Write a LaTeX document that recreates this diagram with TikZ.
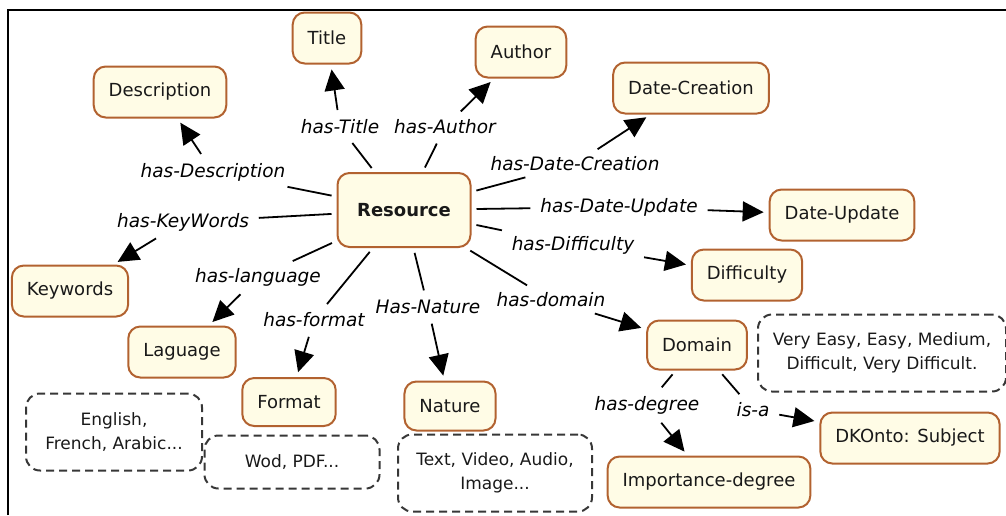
\documentclass[tikz,border=0pt]{standalone}
\usepackage{fontspec}
\setmainfont{DejaVu Sans}
\usepackage{tikz}
\usetikzlibrary{arrows.meta}
\definecolor{box_fill}{RGB}{255,252,230}
\definecolor{box_edge}{RGB}{178,98,48}
\definecolor{dash_gray}{RGB}{55,55,55}
\definecolor{text_gray}{RGB}{25,25,25}

\begin{document}
\begin{tikzpicture}[->,line width=1.8pt,>={Triangle[length=21pt,width=20pt]},x=1pt,y=-1pt]
    \tikzstyle{concept}=[draw=box_edge, fill=box_fill, rounded corners=12pt, line width=2pt, minimum height=51pt, inner xsep=15pt, text=text_gray, font=\fontsize{18}{21}\selectfont]
    \tikzstyle{values}=[draw=dash_gray, dash pattern=on 8pt off 5pt, rounded corners=14pt, line width=2pt, align=center, text=text_gray, font=\fontsize{17}{24}\selectfont]
    \tikzstyle{rel}=[inner sep=4pt, text=black, font=\itshape\fontsize{18.5}{21}\selectfont]

    \useasboundingbox (0,0) rectangle (1006,515);
    \draw[-,line width=2pt] (8,515) -- (8,10) -- (1006,10);

    % concepts
    \node[concept]                  (title)  at (327,38)  {Title};
    \node[concept]                  (author) at (521,52)  {Author};
    \node[concept]                  (descr)  at (160,92)  {Description};
    \node[concept]                  (datecr) at (691,88)  {Date-Creation};
    \node[concept,minimum width=133pt,minimum height=74pt,font=\bfseries\fontsize{18}{21}\selectfont]
                                    (res)    at (404,210) {Resource};
    \node[concept]                  (dateup) at (842,215) {Date-Update};
    \node[concept]                  (diff)   at (747,275) {Difficulty};
    \node[concept]                  (keyw)   at (70,291)  {Keywords};
    \node[concept]                  (lang)   at (182,352) {Laguage};
    \node[concept,minimum height=48pt] (fmt) at (289,402) {Format};
    \node[concept,minimum height=49pt] (nat) at (450,406) {Nature};
    \node[concept,minimum height=49pt] (dom) at (697,345) {Domain};
    \node[concept]                  (dkonto) at (910,438) {DKOnto: Subject};
    \node[concept]                  (impdeg) at (709,482) {Importance-degree};

    % value lists
    \node[values,minimum width=248pt,minimum height=77pt] (vdiff) at (882,353) {Very Easy, Easy, Medium,\\Difficult, Very Difficult.};
    \node[values,minimum width=176pt,minimum height=77pt] (vlang) at (114,432) {English,\\French, Arabic...};
    \node[values,minimum width=175pt,minimum height=53pt] (vfmt)  at (292,462) {Wod, PDF...};
    \node[values,minimum width=194pt,minimum height=77pt] (vnat)  at (495,473) {Text, Video, Audio,\\Image...};

    % relations
    \node[rel] (ltit) at (340,127) {has-Title};
    \node[rel] (laut) at (445,127) {has-Author};
    \node[rel] (ldes) at (213,172) {has-Description};
    \node[rel] (lkey) at (183,222) {has-KeyWords};
    \node[rel] (llan) at (258,277) {has-language};
    \node[rel] (lfor) at (314,320) {has-format};
    \node[rel] (lnat) at (428,307) {Has-Nature};
    \node[rel] (ldom) at (551,300) {has-domain};
    \node[rel] (ldc)  at (575,164) {has-Date-Creation};
    \node[rel] (ldu)  at (619,207) {has-Date-Update};
    \node[rel] (ldif) at (573,245) {has-Difficulty};
    \node[rel] (ldeg) at (647,405) {has-degree};
    \node[rel] (lisa) at (753,410) {is-a};

    \path[shorten <=5pt,shorten >=5pt]
     (res) edge[-] (ltit)   (ltit) edge (title)
     (res) edge[-] (laut)   (laut) edge (author)
     (res) edge[-] (ldes)   (ldes) edge (descr)
     (res) edge[-] (lkey)   (lkey) edge (keyw)
     (res) edge[-] (llan)   (llan) edge (lang)
     (res) edge[-] (lfor)   (lfor) edge (fmt)
     (res) edge[-] (lnat)   (lnat) edge (nat)
     (res) edge[-] (ldom)   (ldom) edge (dom)
     (res) edge[-] (ldc)    (ldc)  edge (datecr)
     (res) edge[-] (ldu)    (ldu)  edge (dateup)
     (res) edge[-] (ldif)   (ldif) edge (diff)
     (dom) edge[-] (ldeg)   (ldeg) edge (impdeg)
     (dom) edge[-] (lisa)   (lisa) edge (dkonto)
     ;
\end{tikzpicture}
\end{document}
